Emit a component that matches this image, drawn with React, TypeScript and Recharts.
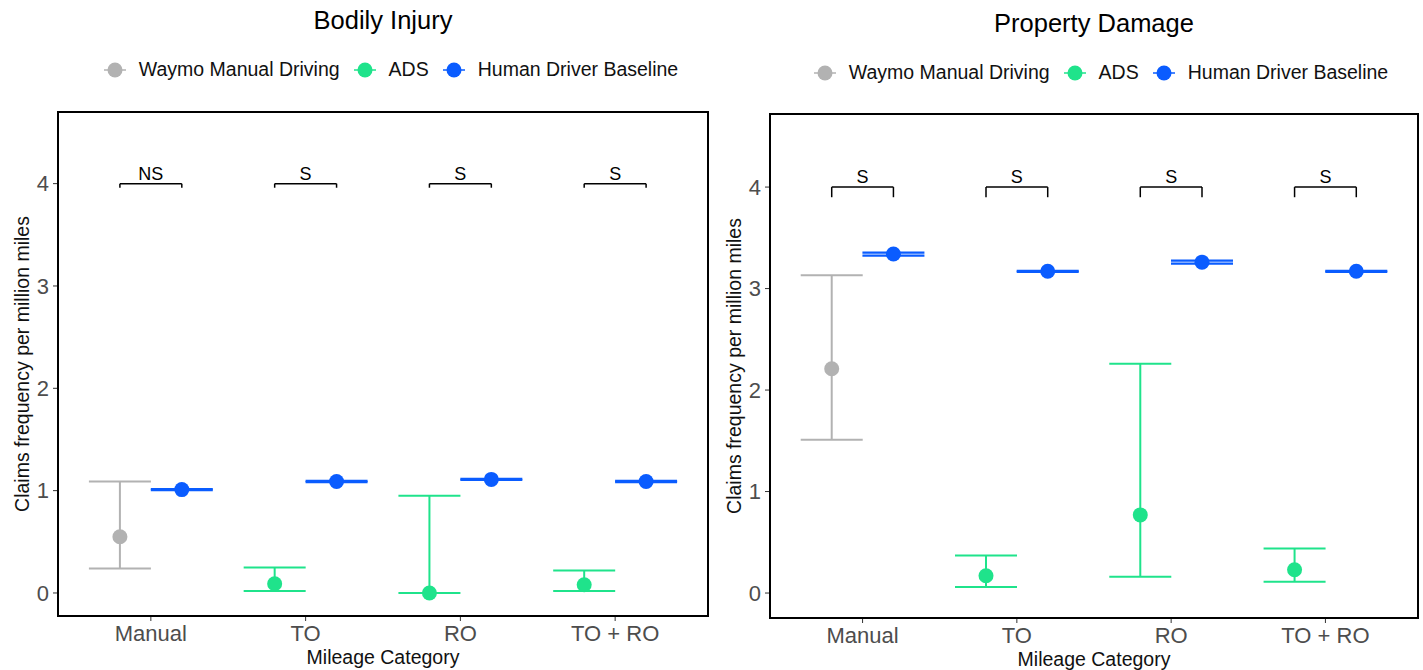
import {
  ComposedChart,
  Scatter,
  ErrorBar,
  XAxis,
  YAxis,
  ReferenceLine,
  ReferenceDot,
} from 'recharts';

const categories = ['Manual', 'TO', 'RO', 'TO + RO'];

// Bodily Injury
const biManualMean = [0.55];
const biManualLow = [0.24];
const biManualHigh = [1.09];
const biAdsMean = [0.09, 0.0, 0.08];
const biAdsLow = [0.02, 0.0, 0.02];
const biAdsHigh = [0.25, 0.95, 0.22];
const biHumanMean = [1.01, 1.09, 1.11, 1.09];
const biHumanLow = [1.004, 1.084, 1.104, 1.084];
const biHumanHigh = [1.016, 1.096, 1.116, 1.096];
const biSig = ['NS', 'S', 'S', 'S'];

// Property Damage
const pdManualMean = [2.21];
const pdManualLow = [1.51];
const pdManualHigh = [3.13];
const pdAdsMean = [0.17, 0.77, 0.23];
const pdAdsLow = [0.06, 0.16, 0.11];
const pdAdsHigh = [0.37, 2.26, 0.44];
const pdHumanMean = [3.34, 3.17, 3.26, 3.17];
const pdHumanLow = [3.325, 3.165, 3.245, 3.165];
const pdHumanHigh = [3.355, 3.175, 3.275, 3.175];
const pdSig = ['S', 'S', 'S', 'S'];

const GREY = '#b2b2b2';
const GREEN = '#1fe38b';
const BLUE = '#0a5cff';
const FONT = '"Liberation Sans", Arial, Helvetica, sans-serif';
const DODGE = 0.2;

const toRows = (cats: number[], mean: number[], low: number[], high: number[], shift: number) =>
  mean.map((m, i) => ({ x: cats[i] + 1 + shift, y: m, err: [m - low[i], high[i] - m] }));

const dot = (color: string) => (p: any) => <circle cx={p.cx} cy={p.cy} r={7.5} fill={color} />;

function LegendRow() {
  const items = [
    { name: 'Waymo Manual Driving', color: GREY },
    { name: 'ADS', color: GREEN },
    { name: 'Human Driver Baseline', color: BLUE },
  ];
  return (
    <div style={{ display: 'flex', alignItems: 'center', justifyContent: 'center', fontFamily: FONT, fontSize: 19.5, color: '#111' }}>
      {items.map((it, i) => (
        <div key={it.name} style={{ display: 'flex', alignItems: 'center', marginLeft: i === 0 ? 0 : 12 }}>
          <svg width={26} height={20} style={{ marginRight: 11 }}>
            <line x1={2} y1={10} x2={24} y2={10} stroke={it.color} strokeWidth={1.5} />
            <circle cx={13} cy={10} r={7.5} fill={it.color} />
          </svg>
          {it.name}
        </div>
      ))}
    </div>
  );
}

interface PanelProps {
  left: number;
  width: number;
  title: string;
  titleTop: number;
  legendTop: number;
  plotTop: number;
  plotBottom: number;
  yWidth: number;
  yDomain: [number, number];
  tipLen: number;
  manual: [number[], number[], number[]];
  ads: [number[], number[], number[]];
  human: [number[], number[], number[]];
  sig: string[];
}

function Panel(p: PanelProps) {
  const manualRows = toRows([0], p.manual[0], p.manual[1], p.manual[2], -DODGE);
  const adsRows = toRows([1, 2, 3], p.ads[0], p.ads[1], p.ads[2], -DODGE);
  const humanRows = toRows([0, 1, 2, 3], p.human[0], p.human[1], p.human[2], DODGE);
  const H = 670;
  const xAxisH = 48;
  const rightM = 5;
  const plotMid = (p.yWidth + p.width - rightM) / 2;
  const tick = { fill: '#4d4d4d', fontSize: 22, fontFamily: FONT };
  return (
    <div style={{ position: 'absolute', left: p.left, top: 0, width: p.width, height: H }}>
      <div style={{ position: 'absolute', top: p.titleTop, left: plotMid - 200, width: 400, textAlign: 'center', fontFamily: FONT, fontSize: 25.5, color: '#000' }}>
        {p.title}
      </div>
      <div style={{ position: 'absolute', top: p.legendTop, left: 0, width: 780 }}>
        <LegendRow />
      </div>
      <div style={{ position: 'absolute', top: 0, left: 0 }}>
        <ComposedChart
          width={p.width}
          height={H}
          margin={{ top: p.plotTop, right: rightM, bottom: H - p.plotBottom - xAxisH, left: 0 }}
        >
          <XAxis
            type="number"
            dataKey="x"
            domain={[0.4, 4.6]}
            ticks={[1, 2, 3, 4]}
            tickFormatter={(v) => categories[v - 1]}
            allowDataOverflow
            height={xAxisH}
            tick={tick}
            tickSize={5}
            tickMargin={4}
            tickLine={{ stroke: '#333' }}
            axisLine={{ stroke: '#000', strokeWidth: 2 }}
            label={{ value: 'Mileage Category', position: 'insideBottom', offset: 0, style: { fontSize: 19.5, fill: '#111', fontFamily: FONT } }}
          />
          <YAxis
            type="number"
            dataKey="y"
            domain={p.yDomain}
            ticks={[0, 1, 2, 3, 4]}
            allowDataOverflow
            width={p.yWidth}
            tick={tick}
            tickSize={5}
            tickMargin={4}
            tickLine={{ stroke: '#333' }}
            axisLine={{ stroke: '#000', strokeWidth: 2 }}
            label={{
              value: 'Claims frequency per million miles',
              angle: -90,
              position: 'insideLeft',
              offset: p.yWidth - 36,
              style: { textAnchor: 'middle', fontSize: 19.5, fill: '#111', fontFamily: FONT },
            }}
          />
          {p.sig.map((s, i) => {
            const a = i + 1 - DODGE;
            const b = i + 1 + DODGE;
            return [
              <ReferenceLine key={`h${i}`} segment={[{ x: a, y: 4 }, { x: b, y: 4 }]} stroke="#000" strokeWidth={1.5} />,
              <ReferenceLine key={`l${i}`} segment={[{ x: a, y: 4 }, { x: a, y: 4 - p.tipLen }]} stroke="#000" strokeWidth={1.5} />,
              <ReferenceLine key={`r${i}`} segment={[{ x: b, y: 4 }, { x: b, y: 4 - p.tipLen }]} stroke="#000" strokeWidth={1.5} />,
              <ReferenceDot
                key={`t${i}`}
                x={i + 1}
                y={4}
                r={0}
                fill="none"
                stroke="none"
                label={{ value: s, position: 'top', offset: 4, style: { fontSize: 18, fill: '#000', fontFamily: FONT } }}
              />,
            ];
          })}
          <Scatter data={manualRows} shape={dot(GREY)} isAnimationActive={false}>
            <ErrorBar dataKey="err" direction="y" width={31} stroke={GREY} strokeWidth={2} />
          </Scatter>
          <Scatter data={adsRows} shape={dot(GREEN)} isAnimationActive={false}>
            <ErrorBar dataKey="err" direction="y" width={31} stroke={GREEN} strokeWidth={2} />
          </Scatter>
          <Scatter data={humanRows} shape={dot(BLUE)} isAnimationActive={false}>
            <ErrorBar dataKey="err" direction="y" width={31} stroke={BLUE} strokeWidth={2.2} />
          </Scatter>
        </ComposedChart>
      </div>
      <div
        style={{
          position: 'absolute',
          left: p.yWidth - 1,
          top: p.plotTop - 1,
          width: p.width - p.yWidth - rightM + 2,
          height: p.plotBottom - p.plotTop + 2,
          border: '2.5px solid #000',
          boxSizing: 'border-box',
          pointerEvents: 'none',
        }}
      />
    </div>
  );
}

export default function App() {
  return (
    <div style={{ position: 'absolute', left: 0, top: 0, width: 1423, height: 670, background: '#fff' }}>
      <Panel
        left={0}
        width={713}
        title="Bodily Injury"
        titleTop={6}
        legendTop={58}
        plotTop={112}
        plotBottom={616}
        yWidth={58}
        yDomain={[-0.225, 4.7]}
        tipLen={0.04}
        manual={[biManualMean, biManualLow, biManualHigh]}
        ads={[biAdsMean, biAdsLow, biAdsHigh]}
        human={[biHumanMean, biHumanLow, biHumanHigh]}
        sig={biSig}
      />
      <Panel
        left={710}
        width={713}
        title="Property Damage"
        titleTop={9}
        legendTop={61}
        plotTop={114}
        plotBottom={618}
        yWidth={60}
        yDomain={[-0.246, 4.72]}
        tipLen={0.1}
        manual={[pdManualMean, pdManualLow, pdManualHigh]}
        ads={[pdAdsMean, pdAdsLow, pdAdsHigh]}
        human={[pdHumanMean, pdHumanLow, pdHumanHigh]}
        sig={pdSig}
      />
    </div>
  );
}
